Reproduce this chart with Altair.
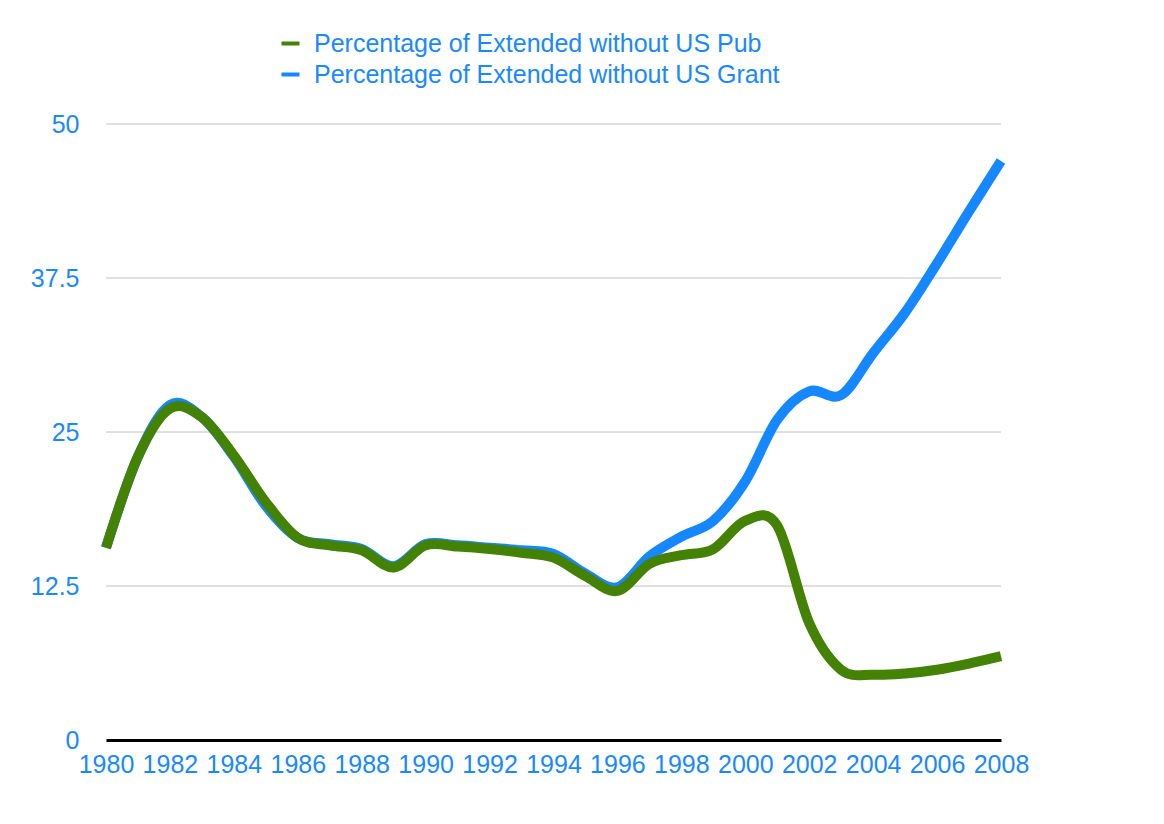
import altair as alt
import pandas as pd

years = list(range(1980, 2009))
pub = [15.6, 23.0, 26.9, 26.2, 23.1, 19.3, 16.4, 15.8, 15.4, 14.0, 15.8, 15.7, 15.5, 15.2, 14.8,
       13.3, 12.1, 14.3, 15.0, 15.5, 17.8, 17.4, 9.5, 5.7, 5.3, 5.4, 5.7, 6.2, 6.8]
grant = [15.6, 23.0, 27.2, 26.2, 23.0, 19.0, 16.4, 15.9, 15.5, 14.1, 15.9, 15.8, 15.6, 15.4, 15.1,
         13.5, 12.4, 14.9, 16.5, 17.8, 21.0, 26.0, 28.3, 28.0, 31.4, 34.7, 38.7, 42.9, 47.0]
series_names = ["Percentage of Extended without US Pub", "Percentage of Extended without US Grant"]
colors = ["#438204", "#1587ff"]
year_ticks = list(range(1980, 2009, 2))
value_ticks = [0, 12.5, 25, 37.5, 50]

rows = []
for y, v in zip(years, grant):
    rows.append({"year": y, "value": v, "series": series_names[1], "order": 0})
for y, v in zip(years, pub):
    rows.append({"year": y, "value": v, "series": series_names[0], "order": 1})
df = pd.DataFrame(rows)
grid_df = pd.DataFrame({"value": value_ticks[1:],
                        "year": [years[0]] * 4, "year_end": [years[-1]] * 4})

FONT = "Liberation Sans"
TXT = "#1a88ff"

yscale = alt.Scale(domain=[0, 50], nice=False)
xscale = alt.Scale(domain=[1980, 2008], nice=False, zero=False)
yaxis = alt.Axis(values=value_ticks, labelExpr="toString(datum.value)", title=None,
                 domain=False, ticks=False, grid=False,
                 labelColor=TXT, labelFont=FONT, labelFontSize=25, labelPadding=27)
xaxis = alt.Axis(values=year_ticks, format="d", title=None, grid=False, ticks=False,
                 domainColor="#000000", domainWidth=3, labelColor=TXT, labelFont=FONT,
                 labelFontSize=25, labelPadding=12, labelFlush=False)

grid = alt.Chart(grid_df).mark_rule(color="#c0c0c0", strokeWidth=1).encode(
    x=alt.X("year:Q", scale=xscale, axis=xaxis),
    x2="year_end:Q",
    y=alt.Y("value:Q", scale=yscale, axis=yaxis),
)

lines = alt.Chart(df).mark_line(strokeWidth=10, interpolate="cardinal", strokeCap="butt").encode(
    x=alt.X("year:Q", scale=xscale, axis=xaxis),
    y=alt.Y("value:Q", scale=yscale, axis=yaxis),
    color=alt.Color("series:N", scale=alt.Scale(domain=series_names, range=colors),
                    legend=alt.Legend(title=None, orient="none", legendX=172, legendY=-93,
                                      symbolType="stroke", symbolSize=324, symbolStrokeWidth=4,
                                      labelColor=TXT, labelFont=FONT, labelFontSize=25,
                                      labelOffset=11, rowPadding=5, labelLimit=800)),
    order=alt.Order("order:Q"),
    detail="series:N",
)

chart = alt.layer(grid, lines).properties(
    width=895, height=616,
    background="white",
    autosize=alt.AutoSizeParams(type="none"),
    padding={"left": 98, "top": 116, "right": 50, "bottom": 60},
).configure_view(stroke=None)

chart.save("out.html", embed_options={"renderer": "svg", "actions": False})
